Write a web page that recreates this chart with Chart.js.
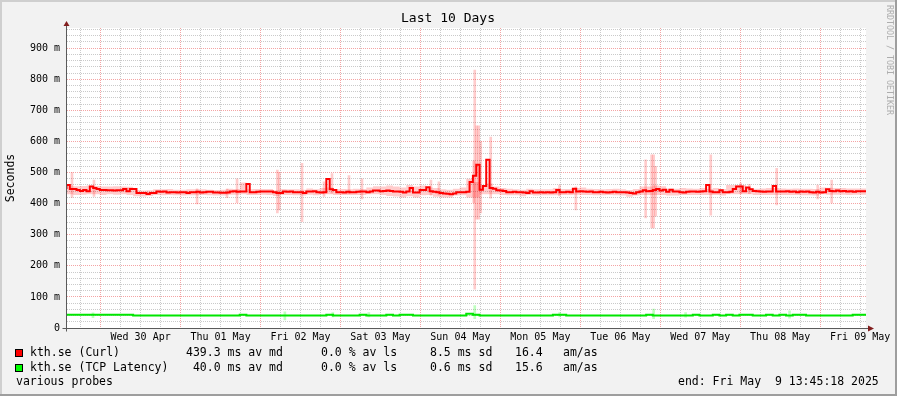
<!DOCTYPE html>
<html>
<head>
<meta charset="utf-8">
<script src="https://cdn.jsdelivr.net/npm/chart.js@4.4.1/dist/chart.umd.min.js"></script>
<style>
  html, body { margin: 0; padding: 0; background: #f2f2f2; }
  canvas { display: block; }
</style>
</head>
<body>
<canvas id="chart" width="897" height="396"></canvas>
<script>
// x axis: hours since Tue 29 Apr 13:45:18, 10 days
var firstMidnight = 10.245;
var dayLabels = ['Wed 30 Apr', 'Thu 01 May', 'Fri 02 May', 'Sat 03 May', 'Sun 04 May',
                 'Mon 05 May', 'Tue 06 May', 'Wed 07 May', 'Thu 08 May', 'Fri 09 May'];

// kth.se (Curl) median, ms, one value per hour
var curlMedian = [
  447,460,447,447,444,441,444,440,455,450,447,444,444,443,443,442,443,443,447,440,447,447,434,434,
  434,431,434,434,439,438,439,436,437,437,436,437,437,434,437,437,438,436,437,438,438,436,436,435,
  435,436,439,440,438,439,439,463,437,437,438,439,439,439,439,437,434,434,439,438,439,437,437,437,
  434,439,439,440,437,436,437,479,446,444,437,437,436,438,437,437,438,439,439,437,439,442,442,440,
  441,442,441,439,439,438,436,439,450,436,436,444,444,453,440,438,437,434,433,432,430,433,437,437,
  437,438,470,490,525,445,457,541,450,448,443,442,441,437,437,438,437,437,436,434,440,436,436,437,
  436,437,436,437,444,437,437,438,437,448,439,440,439,438,439,437,437,438,437,436,437,438,437,437,
  437,436,434,433,437,439,443,440,441,444,447,442,445,438,445,439,439,437,436,438,439,439,438,439,
  440,460,439,437,437,443,437,437,438,447,455,455,440,452,446,441,440,439,438,439,439,457,439,439,
  439,440,438,439,437,439,438,439,437,436,438,436,437,446,441,440,442,440,441,439,440,438,440,440
];

// Curl smoke band (low / high), ms, one value per 2 hours
var curlLow = [
  432,430,428,429,430,430,428,430,429,430,428,424,
  423,425,428,427,428,427,426,427,427,428,427,426,
  426,429,429,430,428,428,429,428,425,428,428,427,
  426,429,427,430,430,428,428,428,428,428,430,430,
  428,425,423,420,424,420,427,428,422,420,420,426,
  427,420,420,430,430,430,428,427,427,424,428,426,
  427,427,427,428,428,429,428,428,427,427,428,427,
  426,422,426,428,428,428,428,426,426,428,428,428,
  428,428,428,426,430,430,430,430,428,428,428,428,
  428,428,428,427,427,426,430,429,429,429,428,429
];
var curlHigh = [
  458,458,456,457,458,457,455,455,456,455,454,444,
  442,443,446,446,447,445,445,446,446,446,445,444,
  445,448,447,468,446,447,447,447,443,447,446,446,
  445,449,446,450,452,446,447,446,448,447,452,456,
  455,458,455,452,460,455,458,452,450,446,445,448,
  452,480,470,460,465,455,450,448,446,445,448,446,
  446,446,450,447,447,450,452,448,447,446,447,448,
  446,444,447,455,455,458,456,448,448,450,449,448,
  450,447,450,447,460,460,460,450,448,449,450,450,
  449,448,449,448,448,447,452,451,450,450,449,449
];

// Curl smoke spikes: hour, low, high (ms)
var curlSpikeAt = [1.65, 8.25, 39.2, 48.2, 51.2, 63.3, 63.9, 70.7, 77.3, 79.7, 84.8, 88.7, 109.4, 111.8, 122.25,
                   122.55, 123.15, 123.75, 124.35, 127.35, 148, 152.9, 173.85, 175.65, 176.25, 176.85, 193.4,
                   202.4, 205, 213.2, 225.5, 229.7];
var curlSpikeLow = [420, 423, 399, 419, 403, 370, 380, 342, 423, 434, 432, 415, 427, 428, 403,
                    125, 350, 350, 370, 418, 425, 380, 354, 322, 322, 360, 363,
                    432, 432, 396, 415, 402];
var curlSpikeHigh = [500, 476, 448, 447, 480, 508, 500, 530, 470, 497, 490, 480, 476, 470, 538,
                     830, 650, 650, 600, 614, 460, 454, 541, 557, 557, 520, 557,
                     466, 462, 514, 460, 476];

// kth.se (TCP Latency), ms, one value per 2 hours
var tcpMedian = [
  43,43,43,43,43,43,43,43,43,43,43,40,
  40,40,40,40,40,40,40,40,40,40,40,40,
  40,40,40,42.5,40,40,40,40,40,40,40,40,
  40,40,40,40,43,40,40,40,40,42.5,40,40,
  40,42.5,40,42.5,42.5,40,40,40,40,40,40,40,
  40,46,43,40,40,40,40,40,40,40,40,40,
  40,40,42.5,42.5,40,40,40,40,40,40,40,40,
  40,40,40,40,42.5,40,40,40,40,40,40,42.5,
  40,40,42.5,40,42.5,40,42.5,42.5,40,40,42.5,40,
  43,40,42.5,42.5,40,40,40,40,40,40,40,42.5
];
var tcpLow = [
  42,42,42,42,42,42,42,42,42,42,42,39,
  39,39,39,39,39,39,39,39,39,39,39,39,
  39,39,39,39,39,39,39,39,39,39,39,39,
  39,39,39,39,39,39,39,39,39,39,39,39,
  39,39,39,39,39,39,39,39,39,39,39,39,
  39,39,39,39,39,39,39,39,39,39,39,39,
  39,39,39,39,39,39,39,39,39,39,39,39,
  39,39,39,39,39,39,39,39,39,39,39,39,
  39,39,39,39,39,39,39,39,39,39,39,39,
  39,39,39,39,39,39,39,39,39,39,39,39
];
var tcpHigh = [
  44,44,44,44,44,44,44,44,44,44,44,41,
  41,41,41,41,41,41,41,41,41,41,41,41,
  41,41,41,41,41,41,41,41,41,41,41,41,
  41,41,41,41,41,41,41,41,41,41,41,41,
  41,41,41,41,41,41,41,41,41,41,41,41,
  41,41,41,41,41,41,41,41,41,41,41,41,
  41,41,41,41,41,41,41,41,41,41,41,41,
  41,41,41,41,41,41,41,41,41,41,41,41,
  41,41,41,41,41,41,41,41,41,41,41,41,
  41,41,41,41,41,41,41,41,41,41,41,41
];
var tcpSpikeAt = [7.95, 65.55, 79.95, 90.75, 122.55, 148.05, 176.25, 185.85, 217.05];
var tcpSpikeLow = [33, 26, 36, 36, 30, 36, 30, 35, 32];
var tcpSpikeHigh = [49, 52, 50, 50, 72, 50, 61, 50, 55];

// legend
var seriesNames = ['kth.se (Curl)', 'kth.se (TCP Latency)'];
var seriesColors = ['#ff0000', '#00ff00'];
var medianAvg = ['439.3', '40.0'];
var lossAvg = ['0.0', '0.0'];
var stdDev = ['8.5', '0.6'];
var amAs = ['16.4', '15.6'];

var MONO = '"DejaVu Sans Mono"';
var MAJOR = 'rgba(235,90,90,0.55)';
var MINOR = 'rgba(180,180,180,0.7)';
var RED_SMOKE = 'rgba(255,0,0,0.2)';
var GREEN_SMOKE = 'rgba(0,255,0,0.25)';

function toPoints(values, step) {
  var pts = values.map(function (v, i) { return { x: i * step, y: v }; });
  pts.push({ x: values.length * step, y: values[values.length - 1] });
  return pts;
}

function toSpikes(at, lo, hi) {
  return at.map(function (h, i) { return { x: h, y: [lo[i], hi[i]] }; });
}

function hourOfDay(v) {
  return (((v - firstMidnight) % 24) + 24) % 24;
}

var decor = {
  id: 'decor',
  beforeDraw: function (chart) {
    var ctx = chart.ctx, a = chart.chartArea, w = chart.width, h = chart.height;
    ctx.save();
    ctx.fillStyle = '#f2f2f2';
    ctx.fillRect(0, 0, w, h);
    ctx.fillStyle = '#cfcfcf';
    ctx.fillRect(0, 0, w, 2);
    ctx.fillRect(0, 0, 2, h);
    ctx.fillStyle = '#9e9e9e';
    ctx.fillRect(0, h - 2, w, 2);
    ctx.fillRect(w - 2, 0, 2, h);
    ctx.fillStyle = '#ffffff';
    ctx.fillRect(a.left, a.top, a.right - a.left, a.bottom - a.top);
    ctx.restore();
  },
  afterDraw: function (chart) {
    var ctx = chart.ctx, a = chart.chartArea;
    var x0 = Math.round(a.left) - 0.5, y0 = Math.round(a.bottom) + 0.5;
    ctx.save();

    // axes
    ctx.strokeStyle = '#5a5a5a';
    ctx.lineWidth = 1;
    ctx.beginPath();
    ctx.moveTo(x0, a.top - 2);
    ctx.lineTo(x0, y0 + 3);
    ctx.moveTo(x0 - 4, y0);
    ctx.lineTo(a.right + 2, y0);
    ctx.stroke();
    ctx.fillStyle = '#821e1e';
    ctx.beginPath();
    ctx.moveTo(x0, a.top - 7);
    ctx.lineTo(x0 - 3, a.top - 2);
    ctx.lineTo(x0 + 3, a.top - 2);
    ctx.closePath();
    ctx.fill();
    ctx.beginPath();
    ctx.moveTo(a.right + 8, y0);
    ctx.lineTo(a.right + 2, y0 - 3);
    ctx.lineTo(a.right + 2, y0 + 3);
    ctx.closePath();
    ctx.fill();

    // title
    ctx.fillStyle = '#000';
    ctx.textBaseline = 'middle';
    ctx.textAlign = 'center';
    ctx.font = '13px ' + MONO;
    ctx.fillText('Last 10 Days', 448, 19);

    // y title
    ctx.save();
    ctx.translate(11, (a.top + a.bottom) / 2);
    ctx.rotate(-Math.PI / 2);
    ctx.font = '11.5px ' + MONO;
    ctx.fillText('Seconds', 0, 0);
    ctx.restore();

    // watermark
    ctx.save();
    ctx.translate(889, 60);
    ctx.rotate(Math.PI / 2);
    ctx.fillStyle = '#adadad';
    ctx.font = '8.3px ' + MONO;
    ctx.fillText('RRDTOOL / TOBI OETIKER', 0, 0);
    ctx.restore();

    // legend
    ctx.textAlign = 'left';
    ctx.font = '11.5px ' + MONO;
    var rowY = [353, 368];
    for (var i = 0; i < seriesNames.length; i++) {
      var y = rowY[i];
      ctx.fillStyle = seriesColors[i];
      ctx.fillRect(15, y - 4, 8, 8);
      ctx.strokeStyle = '#000';
      ctx.strokeRect(15.5, y - 3.5, 7, 7);
      ctx.fillStyle = '#000';
      ctx.fillText(seriesNames[i], 30, y);
      ctx.fillText(medianAvg[i].padStart(5) + ' ms av md', 186, y);
      ctx.fillText(lossAvg[i] + ' % av ls', 321, y);
      ctx.fillText(stdDev[i] + ' ms sd', 430, y);
      ctx.fillText(amAs[i], 515, y);
      ctx.fillText('am/as', 563, y);
    }
    ctx.fillText('various probes', 16, 382.5);
    ctx.fillText('end: Fri May  9 13:45:18 2025', 678, 382.5);
    ctx.restore();
  }
};

function stepLine(data, color, width, extra) {
  var ds = {
    data: data,
    borderColor: color,
    borderWidth: width,
    pointRadius: 0,
    stepped: 'after',
    fill: false
  };
  return Object.assign(ds, extra || {});
}

function spikeBars(data, color) {
  return {
    type: 'bar',
    data: data,
    backgroundColor: color,
    borderWidth: 0,
    barThickness: 2,
    grouped: false
  };
}

new Chart(document.getElementById('chart'), {
  type: 'line',
  data: {
    datasets: [
      stepLine(toPoints(curlMedian, 1), '#ff0000', 2),
      stepLine(toPoints(tcpMedian, 2), '#00e600', 2),
      spikeBars(toSpikes(curlSpikeAt, curlSpikeLow, curlSpikeHigh), RED_SMOKE),
      spikeBars(toSpikes(tcpSpikeAt, tcpSpikeLow, tcpSpikeHigh), GREEN_SMOKE),
      stepLine(toPoints(curlLow, 2), 'rgba(0,0,0,0)', 0),
      stepLine(toPoints(curlHigh, 2), 'rgba(0,0,0,0)', 0, { fill: '-1', backgroundColor: RED_SMOKE }),
      stepLine(toPoints(tcpLow, 2), 'rgba(0,0,0,0)', 0),
      stepLine(toPoints(tcpHigh, 2), 'rgba(0,0,0,0)', 0, { fill: '-1', backgroundColor: GREEN_SMOKE })
    ]
  },
  options: {
    responsive: false,
    animation: false,
    devicePixelRatio: 1,
    layout: { padding: { left: 0, right: 31, top: 28, bottom: 48 } },
    plugins: { legend: { display: false }, tooltip: { enabled: false } },
    scales: {
      x: {
        type: 'linear',
        min: 0,
        max: 240,
        offset: false,
        afterBuildTicks: function (s) {
          var t = [];
          for (var k = 0; firstMidnight - 6 + 6 * k <= 240; k++) t.push({ value: firstMidnight - 6 + 6 * k });
          s.ticks = t;
        },
        afterFit: function (s) { s.height = 20; },
        grid: {
          offset: false,
          drawTicks: false,
          color: function (c) {
            return c.tick && hourOfDay(c.tick.value) < 0.01 ? MAJOR : MINOR;
          }
        },
        border: { display: false, dash: [1, 1] },
        ticks: {
          autoSkip: false,
          maxRotation: 0,
          padding: 3,
          color: '#000',
          font: { family: MONO, size: 10 },
          callback: function (v) {
            if (Math.abs(hourOfDay(v) - 12) > 0.01) return '';
            return dayLabels[Math.round((v - firstMidnight - 12) / 24)];
          }
        }
      },
      y: {
        type: 'linear',
        min: 0,
        max: 965,
        afterBuildTicks: function (s) {
          var t = [];
          for (var v = 0; v <= 960; v += 20) t.push({ value: v });
          s.ticks = t;
        },
        afterFit: function (s) { s.width = 66.5; },
        grid: {
          drawTicks: false,
          color: function (c) {
            return c.tick && c.tick.value % 100 === 0 ? MAJOR : MINOR;
          }
        },
        border: { display: false, dash: [1, 1] },
        ticks: {
          autoSkip: false,
          padding: 6.5,
          color: '#000',
          font: { family: MONO, size: 10 },
          callback: function (v) {
            if (v % 100 !== 0) return '';
            return v === 0 ? '0' : v + ' m';
          }
        }
      }
    }
  },
  plugins: [decor]
});
</script>
</body>
</html>
